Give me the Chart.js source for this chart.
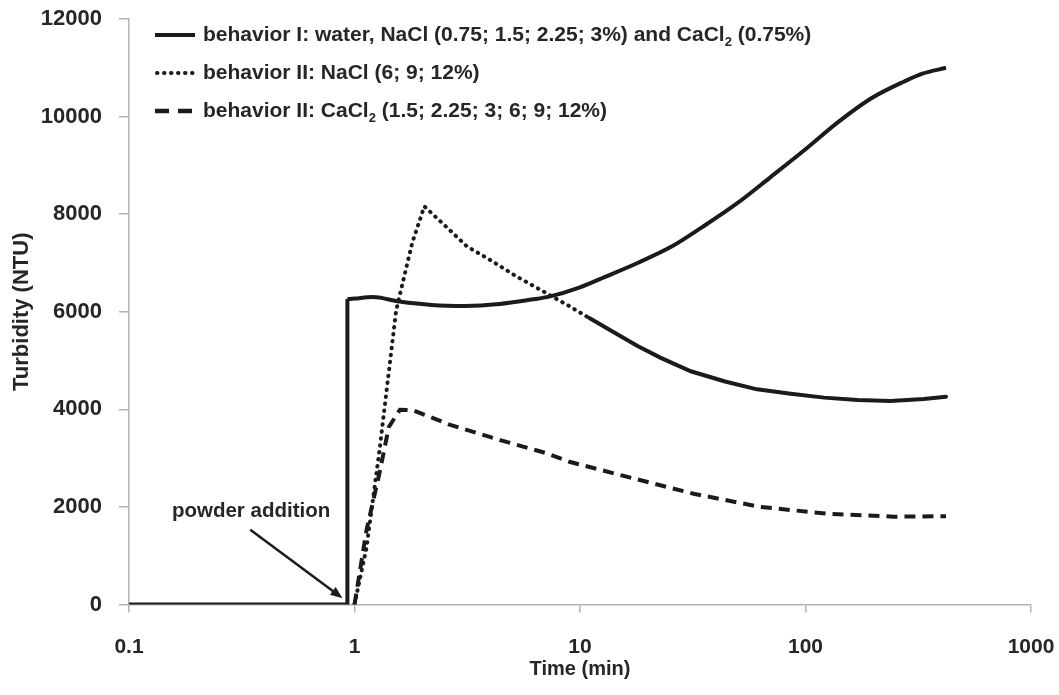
<!DOCTYPE html>
<html>
<head>
<meta charset="utf-8">
<script src="https://cdn.jsdelivr.net/npm/chart.js@4.4.1/dist/chart.umd.min.js"></script>
<style>
  html, body { margin: 0; padding: 0; background: #fff; }
  #wrap { width: 1059px; height: 695px; }
</style>
</head>
<body>
<div id="wrap"><canvas id="chart" width="1059" height="695"></canvas></div>
<script>
// time in minutes (log axis), turbidity in NTU
var behaviorI_t = [0.1, 0.93, 0.93, 1.0, 1.2, 1.58, 2.2, 3.1, 4.4, 6.1, 7.3, 10, 13, 18, 25.6, 35, 50, 70, 100, 139, 195, 274, 330, 420];
var behaviorI_v = [0, 0, 6260, 6270, 6300, 6210, 6140, 6120, 6160, 6250, 6310, 6500, 6720, 7000, 7340, 7740, 8230, 8760, 9330, 9880, 10370, 10720, 10880, 11000];

var naclII_t = [1.0, 1.13, 1.29, 1.53, 1.8, 2.04, 2.5, 3.15, 4.0, 5.2, 7.1, 9, 11, 14, 18, 22.7, 31, 44, 61, 86, 121, 170, 238, 334, 420];
var naclII_v = [0, 1160, 3150, 6030, 7400, 8160, 7780, 7340, 7060, 6730, 6380, 6110, 5870, 5590, 5300, 5060, 4780, 4570, 4410, 4320, 4240, 4190, 4170, 4210, 4260];

var caclII_t = [1.0, 1.13, 1.29, 1.42, 1.59, 1.82, 2.66, 4.42, 7.1, 9.05, 16.1, 31.9, 63, 125, 246, 420];
var caclII_v = [0, 1520, 2690, 3640, 3990, 3980, 3680, 3370, 3100, 2920, 2620, 2270, 2000, 1860, 1800, 1810];

var xTicks = [0.1, 1, 10, 100, 1000];
var yTicks = [0, 2000, 4000, 6000, 8000, 10000, 12000];

var legendRows = [
  [{ text: 'behavior I: water, NaCl (0.75; 1.5; 2.25; 3%) and CaCl' }, { text: '2', sub: true }, { text: ' (0.75%)' }],
  [{ text: 'behavior II: NaCl (6; 9; 12%)' }],
  [{ text: 'behavior II: CaCl' }, { text: '2', sub: true }, { text: ' (1.5; 2.25; 3; 6; 9; 12%)' }]
];

// annotation anchor, in data units
var note = { text: 'powder addition', t: 0.155, v: 1900, fromT: 0.345, fromV: 1530, toT: 0.885, toV: 130 };

var FONT = "'Liberation Sans', Arial, sans-serif";
var INK = '#1b1b1b';
var TXT = '#262626';
var AXIS = '#b4b4b4';

function pts(ts, vs) {
  return ts.map(function (t, i) { return { x: t, y: vs[i] }; });
}

var legendPlugin = {
  id: 'legendRows',
  afterDraw: function (chart) {
    var ctx = chart.ctx;
    var rowY = [35, 73, 111];
    ctx.save();
    ctx.strokeStyle = INK;
    // samples
    ctx.lineWidth = 4;
    ctx.setLineDash([]);
    ctx.beginPath(); ctx.moveTo(155, rowY[0]); ctx.lineTo(195, rowY[0]); ctx.stroke();
    ctx.lineWidth = 4;
    ctx.lineCap = 'round';
    ctx.setLineDash([0.5, 6.5]);
    ctx.beginPath(); ctx.moveTo(157, rowY[1]); ctx.lineTo(194, rowY[1]); ctx.stroke();
    ctx.lineCap = 'butt';
    ctx.lineWidth = 4.5;
    ctx.setLineDash([14, 9]);
    ctx.beginPath(); ctx.moveTo(155, rowY[2]); ctx.lineTo(192, rowY[2]); ctx.stroke();
    ctx.setLineDash([]);

    ctx.fillStyle = TXT;
    ctx.textBaseline = 'middle';
    ctx.textAlign = 'left';
    legendRows.forEach(function (parts, i) {
      var x = 203;
      parts.forEach(function (p) {
        ctx.font = p.sub ? 'bold 13px ' + FONT : 'bold 21px ' + FONT;
        ctx.fillText(p.text, x, rowY[i] + (p.sub ? 7 : 0));
        x += ctx.measureText(p.text).width;
      });
    });
    ctx.restore();
  }
};

var notePlugin = {
  id: 'powderNote',
  afterDraw: function (chart) {
    var ctx = chart.ctx;
    var xs = chart.scales.x, ys = chart.scales.y;
    var x0 = xs.getPixelForValue(note.fromT), y0 = ys.getPixelForValue(note.fromV);
    var x1 = xs.getPixelForValue(note.toT), y1 = ys.getPixelForValue(note.toV);
    ctx.save();
    ctx.fillStyle = TXT;
    ctx.font = 'bold 20.5px ' + FONT;
    ctx.textBaseline = 'middle';
    ctx.fillText(note.text, xs.getPixelForValue(note.t), ys.getPixelForValue(note.v));
    var ang = Math.atan2(y1 - y0, x1 - x0);
    var head = 13;
    ctx.strokeStyle = INK;
    ctx.lineWidth = 2.5;
    ctx.beginPath();
    ctx.moveTo(x0, y0);
    ctx.lineTo(x1 - Math.cos(ang) * head * 0.8, y1 - Math.sin(ang) * head * 0.8);
    ctx.stroke();
    ctx.fillStyle = INK;
    ctx.beginPath();
    ctx.moveTo(x1, y1);
    ctx.lineTo(x1 - head * Math.cos(ang - 0.38), y1 - head * Math.sin(ang - 0.38));
    ctx.lineTo(x1 - head * Math.cos(ang + 0.38), y1 - head * Math.sin(ang + 0.38));
    ctx.closePath();
    ctx.fill();
    ctx.restore();
  }
};

var solidPts = pts(behaviorI_t, behaviorI_v);

new Chart(document.getElementById('chart'), {
  type: 'scatter',
  data: {
    datasets: [
      {
        // baseline and the jump at powder addition
        label: 'behavior I',
        data: solidPts.slice(0, 3),
        showLine: true,
        borderColor: INK,
        borderWidth: 4,
        pointRadius: 0,
        tension: 0
      },
      {
        label: 'behavior I (curve)',
        data: solidPts.slice(2),
        showLine: true,
        borderColor: INK,
        borderWidth: 4,
        pointRadius: 0,
        cubicInterpolationMode: 'monotone'
      },
      {
        label: 'behavior II: NaCl',
        data: pts(naclII_t, naclII_v),
        showLine: true,
        borderColor: INK,
        borderWidth: 4,
        borderDash: [0.5, 6.5],
        borderCapStyle: 'round',
        pointRadius: 0,
        tension: 0,
        // the recorded points run together into a solid trace later on
        segment: {
          borderDash: function (c) { return c.p0.parsed.x >= 11 ? [] : undefined; }
        }
      },
      {
        label: 'behavior II: CaCl2',
        data: pts(caclII_t, caclII_v),
        showLine: true,
        borderColor: INK,
        borderWidth: 4,
        borderDash: [11, 7],
        pointRadius: 0,
        tension: 0
      }
    ]
  },
  options: {
    responsive: false,
    animation: false,
    layout: { padding: { top: 19, right: 28, left: 0, bottom: 0 } },
    plugins: {
      legend: { display: false },
      tooltip: { enabled: false }
    },
    scales: {
      x: {
        type: 'logarithmic',
        min: 0.1,
        max: 1000,
        afterBuildTicks: function (s) { s.ticks = xTicks.map(function (v) { return { value: v }; }); },
        afterFit: function (s) { s.height = 90.5; s.paddingLeft = 0; s.paddingRight = 0; },
        ticks: {
          callback: function (v) { return String(v); },
          color: TXT,
          padding: 22,
          maxRotation: 0,
          font: { family: FONT, size: 21, weight: 'bold' }
        },
        grid: { drawOnChartArea: false, drawTicks: true, tickLength: 8, color: AXIS, lineWidth: 1.5 },
        border: { color: AXIS, width: 1.5 },
        title: {
          display: true,
          text: 'Time (min)',
          color: TXT,
          padding: { top: 0, bottom: 14 },
          font: { family: FONT, size: 20, weight: 'bold' }
        }
      },
      y: {
        min: 0,
        max: 12000,
        afterBuildTicks: function (s) { s.ticks = yTicks.map(function (v) { return { value: v }; }); },
        afterFit: function (s) { s.width = 129; s.paddingTop = 0; s.paddingBottom = 0; },
        ticks: {
          callback: function (v) { return String(v); },
          color: TXT,
          padding: 17,
          font: { family: FONT, size: 22, weight: 'bold' }
        },
        grid: { drawOnChartArea: false, drawTicks: true, tickLength: 10, color: AXIS, lineWidth: 1.5 },
        border: { color: AXIS, width: 1.5 },
        title: {
          display: true,
          text: 'Turbidity (NTU)',
          color: TXT,
          padding: { top: 9, bottom: 0 },
          font: { family: FONT, size: 22, weight: 'bold' }
        }
      }
    }
  },
  plugins: [legendPlugin, notePlugin]
});
</script>
</body>
</html>
